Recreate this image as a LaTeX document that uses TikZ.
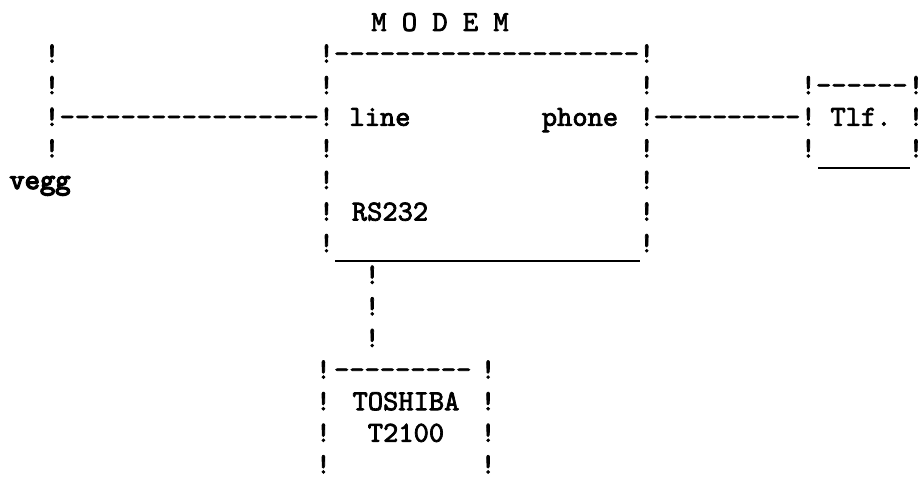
\documentclass[tikz,border=0pt]{standalone}
\usepackage{fontspec}
\newfontfamily\printer{lmmono10-regular.otf}[FakeBold=2.5]
\newfontfamily\printerheavy{lmmono10-regular.otf}[FakeBold=4.5]
\usepackage{tikz}
\usetikzlibrary{positioning}

\tikzset{
  typed/.style={font=\printer\fontsize{21.8}{22}\selectfont, inner sep=0pt, anchor=base},
  heavy/.style={typed, font=\printerheavy\fontsize{21.8}{22}\selectfont},
  printrule/.style={line width=1.6pt},
}

\begin{document}
\begin{tikzpicture}[x=0.75pt,y=-0.75pt]
\useasboundingbox (0,0) rectangle (922,484);
\begin{scope}
  % printout grid: column pitch, line pitch, first column, first baseline
  \def\cw{15.25}
  \def\rh{31.6}
  \def\xo{52}
  \def\yo{31}

  % wall socket on the left
  \foreach \r in {1,...,4}
    \node[typed] (wall-\r) at (\xo, \yo+\rh*\r) {!};
  \foreach \c in {1,...,17}
    \node[typed] (wire-\c) at (\xo+\cw*\c, \yo+\rh*3) {-};
  \node[heavy] (vegg) at (40, \yo+\rh*5) {vegg};

  % modem box
  \node[typed] (modem) at (440, \yo) {M O D E M};
  \foreach \r in {1,...,7}{
    \node[typed] (mdl-\r) at (\xo+\cw*18, \yo+\rh*\r) {!};
    \node[typed] (mdr-\r) at (\xo+\cw*39, \yo+\rh*\r) {!};
  }
  \foreach \c in {19,...,38}
    \node[typed] (mdtop-\c) at (\xo+\cw*\c, \yo+\rh) {-};
  \node[typed] (lineport) at (380, \yo+\rh*3) {line};
  \node[typed] (phoneport) at (580, \yo+\rh*3) {phone};
  \node[typed] (rsport) at (390, \yo+\rh*6) {RS232};
  \draw[printrule] ([xshift=6.4pt,yshift=-6.8pt]mdl-7.base) -- ([xshift=-5.2pt,yshift=-6.8pt]mdr-7.base);

  % telephone
  \foreach \c in {1,...,10}
    \node[typed] (cord-\c) at (\xo+\cw*39+14.6*\c, \yo+\rh*3) {-};
  \foreach \r in {2,3,4}{
    \node[typed] (tlfl-\r) at (\xo+\cw*49.6, \yo+\rh*\r) {!};
    \node[typed] (tlfr-\r) at (916, \yo+\rh*\r) {!};
  }
  \foreach \c in {50.6,51.6,52.6,53.6,54.6,55.6}
    \node[typed] (tlftop-\c) at (\xo+\cw*\c, \yo+\rh*2) {-};
  \node[typed] (tlf) at (861, \yo+\rh*3) {Tlf.};
  \draw[printrule] ([xshift=7.2pt,yshift=-8pt]tlfl-4.base) -- ([xshift=-4.5pt,yshift=-8pt]tlfr-4.base);

  % serial cable down to the pc
  \foreach \r in {8,9,10}
    \node[typed] (cable-\r) at (\xo+\cw*21, \yo+\rh*\r) {!};
  \foreach \r in {11,...,14}{
    \node[typed] (pcl-\r) at (\xo+\cw*17.8, \yo+\rh*\r) {!};
    \node[typed] (pcr-\r) at (\xo+\cw*28.6, \yo+\rh*\r) {!};
  }
  \foreach \c in {19,...,27}
    \node[typed] (pctop-\c) at (\xo+\cw*\c, \yo+\rh*11) {-};
  \node[typed] (toshiba) at (406, \yo+\rh*12) {TOSHIBA};
  \node[typed] (model) at (406, \yo+\rh*13) {T2100};
\end{scope}
\end{tikzpicture}
\end{document}
